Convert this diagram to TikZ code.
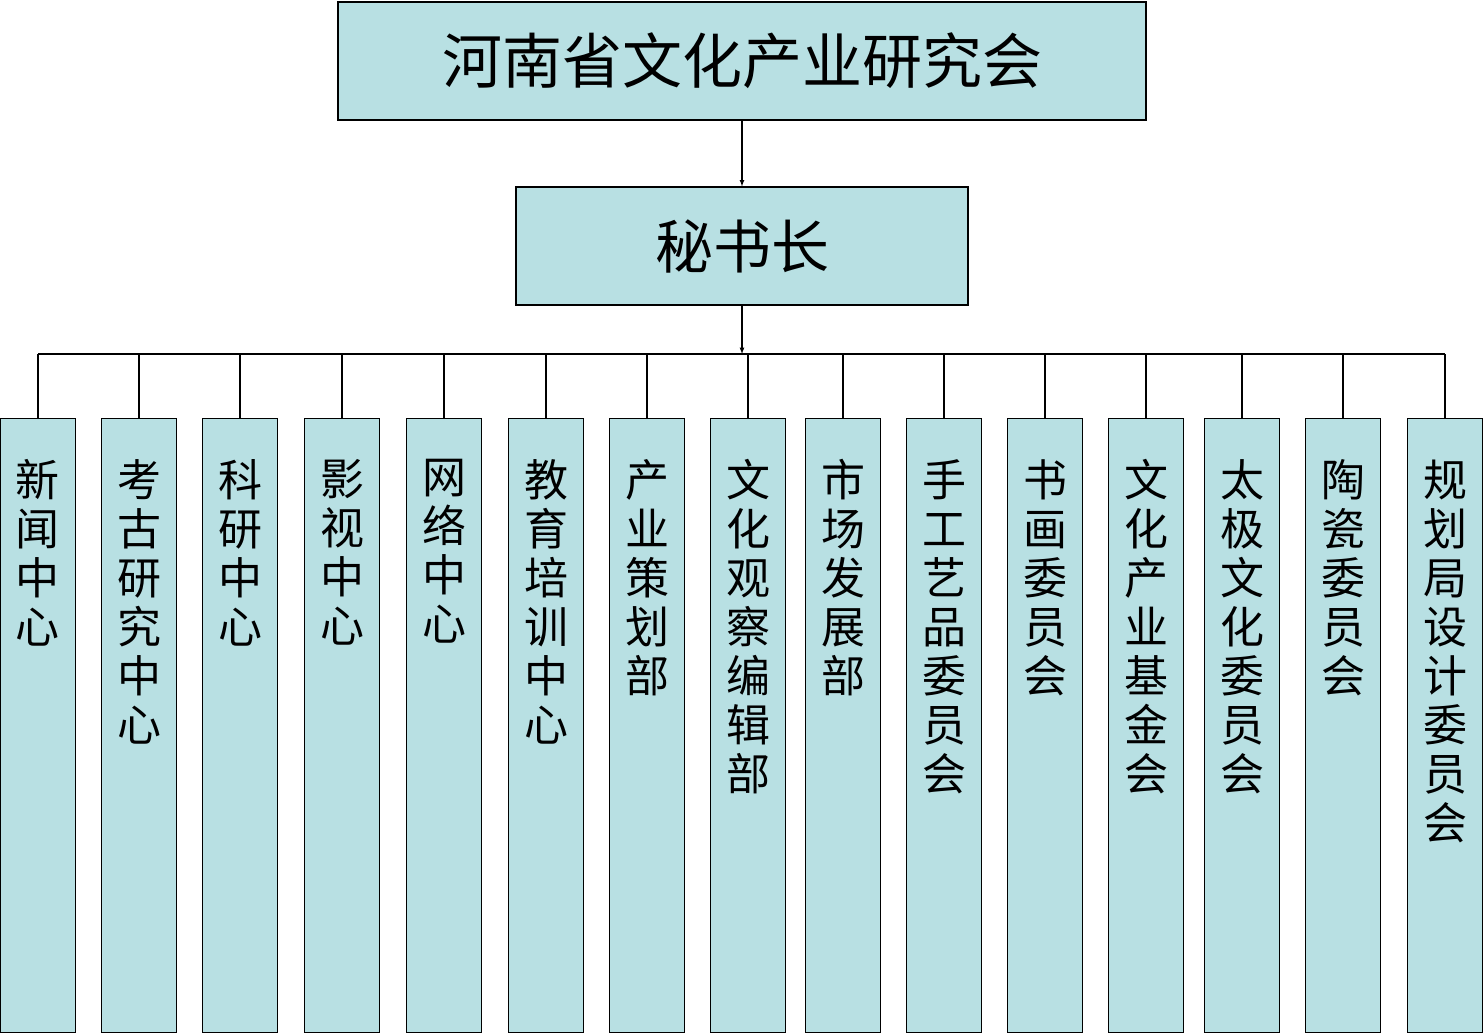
\documentclass[tikz,border=0pt]{standalone}
\usepackage{fontspec}
\setmainfont{Noto Sans CJK SC}
\usetikzlibrary{positioning}
\definecolor{boxfill}{RGB}{184,224,227}
\tikzset{
  box/.style={draw, line width=1.2pt, fill=boxfill, inner sep=0pt},
  link/.style={draw, line width=1.2pt},
  arr/.style={link, -latex}
}
\begin{document}
\begin{tikzpicture}[x=1pt,y=-1pt]
  \useasboundingbox (0,0) rectangle (1484,1033);
  % top levels
  \node[box, minimum width=808pt, minimum height=118pt, font=\fontsize{60}{60}\selectfont] (head) at (742,61) {河南省文化产业研究会};
  \node[box, minimum width=452pt, minimum height=118pt, font=\fontsize{58}{58}\selectfont] (sec) at (742,246) {秘书长};
  \coordinate (bus) at (742,354);
  \draw[arr] (head) -- (sec);
  \draw[arr] (sec) -- (bus);
  \coordinate (busL) at (38,354);
  \coordinate (busR) at (1445,354);
  \draw[link] (busL) -- (busR);
  % departments
  \foreach \x/\name [count=\i] in {38/新\\闻\\中\\心, 139/考\\古\\研\\究\\中\\心, 240/科\\研\\中\\心,
      342/影\\视\\中\\心, 444/网\\络\\中\\心, 546/教\\育\\培\\训\\中\\心, 647/产\\业\\策\\划\\部,
      748/文\\化\\观\\察\\编\\辑\\部, 843/市\\场\\发\\展\\部, 944/手\\工\\艺\\品\\委\\员\\会,
      1045/书\\画\\委\\员\\会, 1146/文\\化\\产\\业\\基\\金\\会, 1242/太\\极\\文\\化\\委\\员\\会,
      1343/陶\\瓷\\委\\员\\会, 1445/规\\划\\局\\设\\计\\委\\员\\会} {
    \node[box, minimum width=75pt, minimum height=614pt, anchor=north] (d\i) at (\x,418) {};
    \node[anchor=north, align=center, font=\fontsize{44}{49}\selectfont] (t\i) at (\x,456) {\name};
    \coordinate (b\i) at (\x,354);
    \draw[link] (b\i) -- (d\i.north);
  }
\end{tikzpicture}
\end{document}
